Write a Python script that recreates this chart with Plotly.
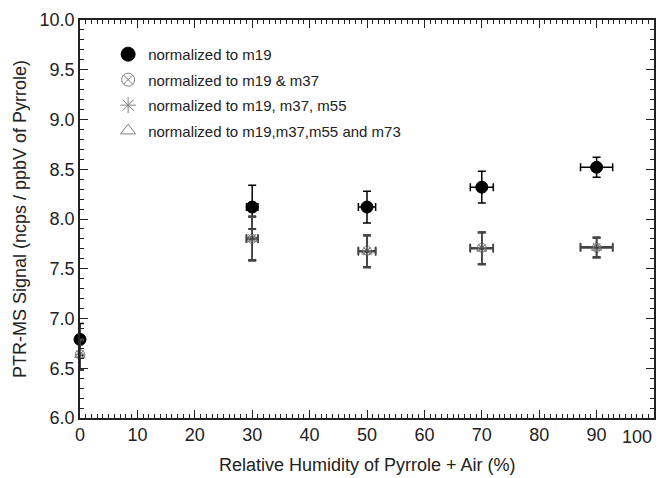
import plotly.graph_objects as go

rh = [0, 30, 50, 70, 90]
rh_err = [0, 1, 1.5, 2, 2.8]

s_m19 = [6.79, 8.12, 8.12, 8.32, 8.52]
s_m19_err = [0.16, 0.22, 0.16, 0.16, 0.1]

s_m19_m37 = [6.64, 7.80, 7.68, 7.71, 7.71]
s_m19_m37_err = [0.15, 0.22, 0.16, 0.16, 0.1]

s_m19_m37_m55 = [6.64, 7.81, 7.68, 7.71, 7.72]
s_m19_m37_m55_err = [0.15, 0.22, 0.16, 0.16, 0.1]

s_all = [6.63, 7.80, 7.67, 7.70, 7.71]
s_all_err = [0.15, 0.22, 0.16, 0.16, 0.1]

names = ["normalized to m19", "normalized to m19 & m37",
         "normalized to m19, m37, m55", "normalized to m19,m37,m55 and m73"]

x_tickvals = [0, 10, 20, 30, 40, 50, 60, 70, 80, 90, 100]
x_ticktext = ["0", "10", "20", "30", "40", "50", "60", "70", "80", "90", ""]
x_last_label = "100"

x_title = "Relative Humidity of Pyrrole + Air (%)"
y_title = "PTR-MS Signal (ncps / ppbV of Pyrrole)"

series = [
    (s_m19, s_m19_err, "circle", "black", 12, "black", 14),
    (s_m19_m37, s_m19_m37_err, "circle-x-open", "#808080", 9, "#444444", 13),
    (s_m19_m37_m55, s_m19_m37_m55_err, "asterisk-open", "#808080", 9, "#444444", 13),
    (s_all, s_all_err, "triangle-up-open", "#808080", 9, "#444444", 13),
]

FONT = "Liberation Sans, Arial"
AX = "#222"

fig = go.Figure()
for i, (vals, errs, sym, col, size, ecol, lsize) in enumerate(series):
    on_mirror = (i == 3)
    fig.add_trace(go.Scatter(
        x=rh, y=vals, mode="markers", name=names[i], showlegend=False,
        cliponaxis=False,
        xaxis="x2" if on_mirror else "x", yaxis="y2" if on_mirror else "y",
        marker=dict(symbol=sym, color=col, size=size, line=dict(color=col, width=1)),
        error_y=dict(type="data", array=errs, color=ecol, thickness=1.5, width=4),
        error_x=dict(type="data", array=rh_err, color=ecol, thickness=1.5, width=4),
    ))
for i, (vals, errs, sym, col, size, ecol, lsize) in enumerate(series):
    # legend-only entry (no data)
    fig.add_trace(go.Scatter(
        x=[None], y=[None], mode="markers", name=names[i], legendgroup=str(i),
        marker=dict(symbol=sym, color=col, size=lsize, line=dict(color=col, width=1)),
    ))

axis_common = dict(
    showline=True, linecolor=AX, linewidth=1.5,
    ticks="inside", ticklen=8, tickcolor=AX, tickwidth=1,
    showgrid=False, zeroline=False, automargin=False,
)
xminor = dict(ticks="inside", dtick=1, tick0=0, ticklen=4, tickcolor=AX, showgrid=False)
yminor = dict(ticks="inside", dtick=0.1, tick0=6.0, ticklen=4, tickcolor=AX, showgrid=False)

fig.update_layout(
    xaxis=dict(
        range=[0, 100], tickvals=x_tickvals, ticktext=x_ticktext,
        tickfont=dict(family=FONT, size=18, color=AX),
        minor=xminor, mirror="allticks", **axis_common,
    ),
    yaxis=dict(
        range=[6.0, 10.0], dtick=0.5, tick0=6.0, tickformat=".1f",
        tickfont=dict(family=FONT, size=18, color=AX),
        minor=yminor, mirror="allticks", **axis_common,
    ),
    xaxis2=dict(
        overlaying="x", side="top", anchor="y2", range=[0, 100], tickvals=x_tickvals,
        showticklabels=False, minor=xminor, **axis_common,
    ),
    yaxis2=dict(
        overlaying="y", side="right", anchor="x2", range=[6.0, 10.0], dtick=0.5, tick0=6.0,
        showticklabels=False, minor=yminor, **axis_common,
    ),
    width=664, height=478,
    margin=dict(l=80, r=10, t=20, b=60),
    plot_bgcolor="white", paper_bgcolor="white",
    legend=dict(x=0.049, y=0.955, xanchor="left", yanchor="top",
                bgcolor="rgba(0,0,0,0)", font=dict(family=FONT, size=15, color=AX),
                tracegroupgap=3, traceorder="grouped"),
    annotations=[
        dict(text=x_last_label, x=100, xref="x", y=0, yref="paper",
             xanchor="right", yanchor="top", yshift=-7, showarrow=False,
             font=dict(family=FONT, size=18, color=AX)),
        dict(text=x_title, x=0.5, xref="paper", y=0, yref="paper",
             xanchor="center", yanchor="middle", yshift=-47, showarrow=False,
             font=dict(family=FONT, size=18, color=AX)),
        dict(text=y_title, x=0, xref="paper", y=0.5, yref="paper", textangle=-90,
             xanchor="center", yanchor="middle", xshift=-60, showarrow=False,
             font=dict(family=FONT, size=18, color=AX)),
    ],
)

fig.write_html("out.html", config={"displayModeBar": False},
               post_script="document.body.style.margin='0';document.body.style.overflow='hidden';")
